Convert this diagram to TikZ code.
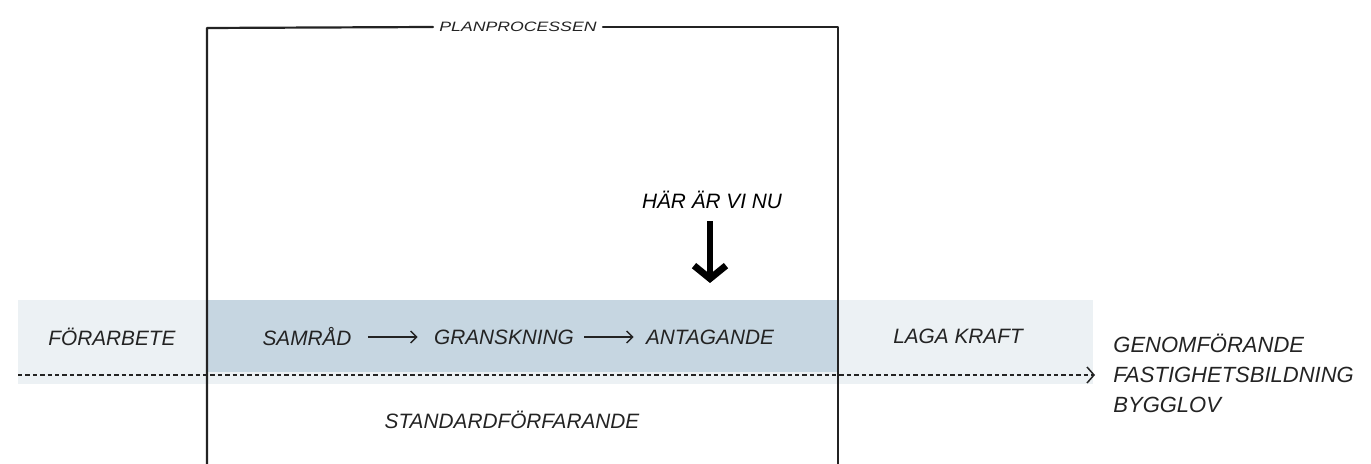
\documentclass[tikz,border=0pt]{standalone}
\usepackage{fontspec}
\setmainfont{Liberation Sans}
\usetikzlibrary{arrows.meta}
\definecolor{lightband}{RGB}{236,241,244}
\definecolor{darkband}{RGB}{198,214,225}
\definecolor{ink}{RGB}{35,35,35}
\begin{document}
\begin{tikzpicture}[x=0.5pt,y=-0.5pt,
  lbl/.style={font=\fontsize{10.4}{12}\selectfont\itshape, text=ink, inner sep=0pt},
  smalllbl/.style={font=\fontsize{6.8}{8}\selectfont\itshape, text=ink, inner sep=0pt},
  frameline/.style={draw=ink, line width=1.1pt, line cap=round, line join=round},
  steparrow/.style={draw=ink, line width=0.7pt, -{Straight Barb[length=3pt,width=6pt]}},
  timeline/.style={draw=ink, line width=0.75pt, dash pattern=on 2.2pt off 1.5pt, -{Straight Barb[length=3.5pt,width=8pt]}},
  herearrow/.style={draw=black, line width=3.4pt, -{Straight Barb[length=6.5pt,width=16pt]}}
]
\useasboundingbox (0,0) rectangle (1371,464);
% bands
\fill[lightband] (18,300) rectangle (1093,384);
\fill[darkband] (207,300) rectangle (838,372);
% frame title
\node[smalllbl] (plan) at (518,27) {\scalebox{1.3}[1]{PLANPROCESSEN}};
\draw[frameline] ([xshift=-3pt]plan.west) -- (207,28) -- (207,464);
\draw[frameline] ([xshift=3pt]plan.east) -- (838,27) -- (838,464);
% stage labels
\node[lbl] (forarbete) at (112,337) {FÖRARBETE};
\node[lbl] (samrad) at (307,337) {SAMRÅD};
\node[lbl] (granskning) at (504,337) {GRANSKNING};
\node[lbl] (antagande) at (710,337) {ANTAGANDE};
\node[lbl] (laga) at (958,336) {LAGA KRAFT};
\draw[steparrow] ([xshift=8pt]samrad.east) -- ([xshift=-8pt]granskning.west);
\draw[steparrow] ([xshift=5pt]granskning.east) -- ([xshift=-6pt]antagande.west);
% timeline
\coordinate (tstart) at (18,375);
\coordinate (tend) at (1095,375);
\node[lbl, font=\fontsize{11}{15}\selectfont\itshape, align=left, anchor=west] (after) at (1113,373) {GENOMFÖRANDE\\FASTIGHETSBILDNING\\BYGGLOV};
\draw[timeline] (tstart) -- (tend);
\node[lbl] (standard) at (512,420) {STANDARDFÖRFARANDE};
% here marker
\node[lbl, text=black] (here) at (712,200) {HÄR ÄR VI NU};
\coordinate (hereend) at (710,283);
\draw[herearrow] ([xshift=-1pt,yshift=-6pt]here.south) -- (hereend);
\end{tikzpicture}
\end{document}
